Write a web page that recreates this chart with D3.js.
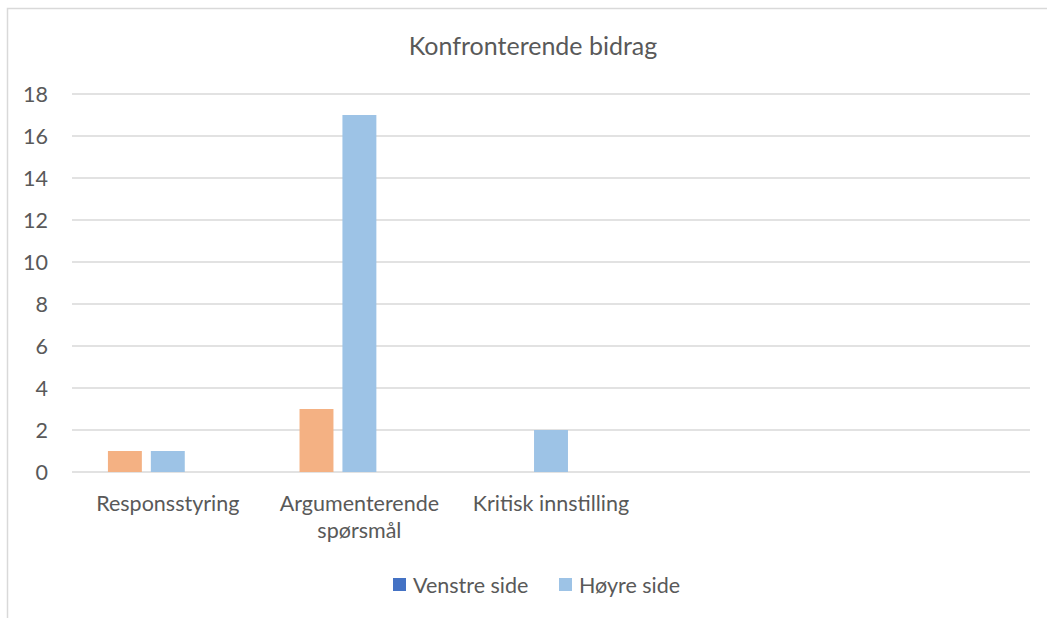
<!DOCTYPE html>
<html lang="no">
<head>
  <meta charset="UTF-8" />
  <title>Konfronterende bidrag</title>
  <script src="https://d3js.org/d3.v7.min.js"></script>
  <style>
    body { margin: 0; background: white; overflow: hidden; }
    svg { display: block; font-family: Lato, "Open Sans", sans-serif; }
  </style>
</head>
<body>
  <script>
    // data
    const categories = ['Responsstyring', 'Argumenterende spørsmål', 'Kritisk innstilling', '', ' '];
    const seriesNames = ['Serie A', 'Høyre side', 'Venstre side'];
    const serieA = [1, 3, 0, 0, 0];
    const hoyre = [1, 17, 2, 0, 0];
    const venstre = [0, 0, 0, 0, 0];
    const yTicks = [0, 2, 4, 6, 8, 10, 12, 14, 16, 18];
    const legendNames = ['Venstre side', 'Høyre side'];

    const colors = { 'Serie A': '#f4b183', 'Høyre side': '#9dc3e6', 'Venstre side': '#4472c4' };
    const values = { 'Serie A': serieA, 'Høyre side': hoyre, 'Venstre side': venstre };

    const w = 1047, h = 618;
    const plotLeft = 72, plotRight = 1030, plotTop = 94, plotBottom = 472;
    const fs = 21.5;

    const svg = d3.select('body').append('svg').attr('width', w).attr('height', h);

    // chart frame
    svg.append('rect')
      .attr('x', 7.5).attr('y', 8.5)
      .attr('width', w + 10).attr('height', h + 10)
      .attr('fill', 'white').attr('stroke', '#d9d9d9').attr('stroke-width', 1.5);

    const x0 = d3.scaleBand().domain(categories).range([plotLeft, plotRight]);
    const x1 = d3.scaleBand().domain(seriesNames).range([0, x0.bandwidth()])
      .paddingInner(9 / 43).paddingOuter(36 / 43);
    const y = d3.scaleLinear().domain([0, 18]).range([plotBottom, plotTop]);

    // gridlines
    svg.append('g').selectAll('line').data(yTicks).enter().append('line')
      .attr('x1', plotLeft).attr('x2', plotRight)
      .attr('y1', d => y(d)).attr('y2', d => y(d))
      .attr('stroke', '#d9d9d9').attr('stroke-width', 1.5);

    // y labels
    svg.append('g').selectAll('text').data(yTicks).enter().append('text')
      .attr('x', 48).attr('y', d => y(d))
      .attr('dy', '0.35em')
      .attr('text-anchor', 'end')
      .attr('font-size', fs).attr('fill', '#595959')
      .text(d => d);

    // bars
    seriesNames.forEach(s => {
      svg.append('g').selectAll('rect')
        .data(categories.map((c, i) => ({ c: c, v: values[s][i] })))
        .enter().append('rect')
        .attr('x', d => x0(d.c) + x1(s))
        .attr('width', x1.bandwidth())
        .attr('y', d => y(d.v))
        .attr('height', d => y(0) - y(d.v))
        .attr('fill', colors[s]);
    });

    // category labels
    const catLabels = [['Responsstyring'], ['Argumenterende', 'spørsmål'], ['Kritisk innstilling'], [], []];
    categories.forEach((c, i) => {
      const t = svg.append('text')
        .attr('x', x0(c) + x0.bandwidth() / 2)
        .attr('y', 511)
        .attr('text-anchor', 'middle')
        .attr('font-size', fs).attr('fill', '#595959');
      catLabels[i].forEach((line, j) => {
        t.append('tspan').attr('x', x0(c) + x0.bandwidth() / 2).attr('dy', j === 0 ? 0 : 27).text(line);
      });
    });

    // title
    svg.append('text')
      .attr('x', 533).attr('y', 55)
      .attr('text-anchor', 'middle')
      .attr('font-size', 25).attr('fill', '#595959')
      .text('Konfronterende bidrag');

    // legend
    const legendX = [393, 559];
    legendNames.forEach((n, i) => {
      svg.append('rect')
        .attr('x', legendX[i]).attr('y', 578)
        .attr('width', 13).attr('height', 13)
        .attr('fill', colors[n]);
      svg.append('text')
        .attr('x', legendX[i] + 20).attr('y', 585)
        .attr('dy', '0.35em')
        .attr('font-size', fs).attr('fill', '#595959')
        .text(n);
    });
  </script>
</body>
</html>
